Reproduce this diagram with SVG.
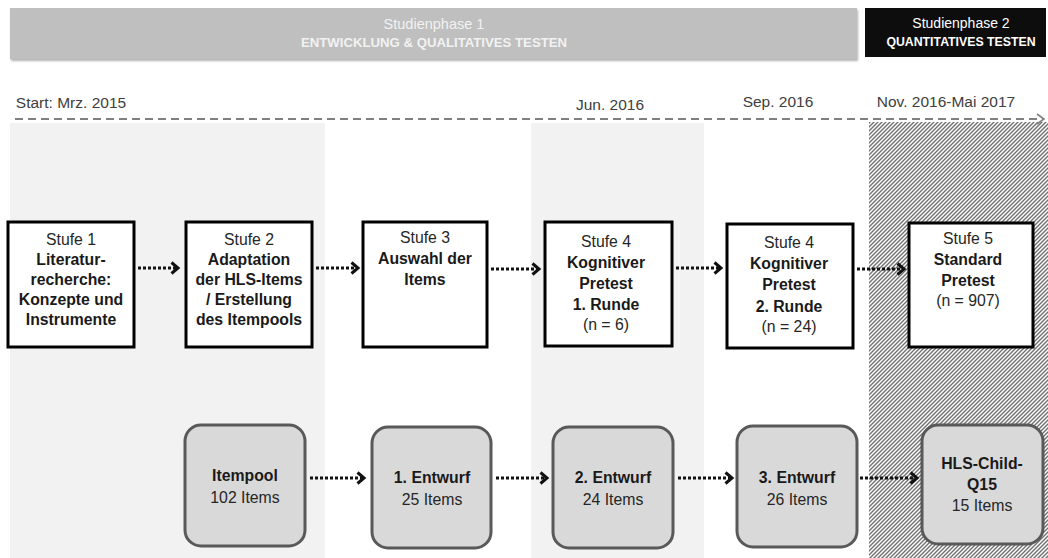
<svg xmlns="http://www.w3.org/2000/svg" width="1048" height="558" viewBox="0 0 1048 558">
<defs>
<style>
text{font-family:"Liberation Sans",Arial,sans-serif;text-anchor:middle;}
.t{font-size:15.8px;fill:#262626;}
.b{font-weight:bold;fill:#1a1a1a;}
.sq{fill:#ffffff;stroke:#000000;stroke-width:3;}
.rr{fill:#d9d9d9;stroke:#595959;stroke-width:3;}
.con{fill:none;stroke:#111111;stroke-width:3;stroke-dasharray:3 2;}
.tl{font-size:15.5px;fill:#404040;}
</style>
<pattern id="hatch" patternUnits="userSpaceOnUse" width="4" height="4">
<rect width="4" height="4" fill="#ffffff"/>
<path d="M-1,1 L1,-1 M0,4 L4,0 M3,5 L5,3" stroke="#707070" stroke-width="1.4"/>
</pattern>
<marker id="ah" markerUnits="userSpaceOnUse" markerWidth="12" markerHeight="14" refX="8" refY="7" orient="auto">
<path d="M1.5,1.5 L8,7 L1.5,12.5" fill="none" stroke="#111111" stroke-width="3"/>
</marker>
<marker id="tah" markerUnits="userSpaceOnUse" markerWidth="10" markerHeight="12" refX="8" refY="6" orient="auto">
<path d="M1,1 L8,6 L1,11" fill="none" stroke="#808080" stroke-width="1.6"/>
</marker>
<filter id="sh" x="-5%" y="-20%" width="110%" height="150%">
<feDropShadow dx="1" dy="2" stdDeviation="1.2" flood-color="#000000" flood-opacity="0.3"/>
</filter>
</defs>
<rect width="1048" height="558" fill="#ffffff"/>
<g id="background">
<rect x="10" y="123" width="315" height="435" fill="#f2f2f2"/>
<rect x="531" y="123" width="173" height="435" fill="#f2f2f2"/>
<rect x="869" y="122" width="179" height="436" fill="url(#hatch)"/>
</g>
<g id="phase1">
<rect x="10" y="8" width="847" height="51" fill="#bfbfbf" filter="url(#sh)"/>
<text x="434" y="29" style="font-size:14.5px;fill:#f2f2f2">Studienphase 1</text>
<text x="434" y="47" class="b" style="font-size:13.2px;fill:#f2f2f2">ENTWICKLUNG &amp; QUALITATIVES TESTEN</text>
</g>
<g id="phase2">
<rect x="865" y="8" width="181" height="49" fill="#0d0d0d"/>
<text x="961" y="28" style="font-size:14px;fill:#ffffff">Studienphase 2</text>
<text x="961" y="46" class="b" style="font-size:12.3px;fill:#ffffff">QUANTITATIVES TESTEN</text>
</g>
<g id="timeline">
<line x1="15" y1="119" x2="1044" y2="119" stroke="#808080" stroke-width="2" stroke-dasharray="8 5" marker-end="url(#tah)"/>
<text x="71" y="108" class="tl">Start: Mrz. 2015</text>
<text x="610" y="110" class="tl">Jun. 2016</text>
<text x="778" y="107" class="tl">Sep. 2016</text>
<text x="946" y="107" class="tl">Nov. 2016-Mai 2017</text>
</g>
<g id="connectors">
<line class="con" x1="138" y1="268" x2="178" y2="268" marker-end="url(#ah)"/>
<line class="con" x1="316" y1="268" x2="358" y2="268" marker-end="url(#ah)"/>
<line class="con" x1="491" y1="269" x2="539" y2="269" marker-end="url(#ah)"/>
<line class="con" x1="676" y1="268" x2="721" y2="268" marker-end="url(#ah)"/>
<line class="con" x1="857" y1="269" x2="904" y2="269" marker-end="url(#ah)"/>
<line class="con" x1="310" y1="478" x2="364" y2="478" marker-end="url(#ah)"/>
<line class="con" x1="496" y1="478" x2="547" y2="478" marker-end="url(#ah)"/>
<line class="con" x1="678" y1="478" x2="732" y2="478" marker-end="url(#ah)"/>
<line class="con" x1="860" y1="478" x2="917" y2="478" marker-end="url(#ah)"/>
</g>
<g id="stufe1">
<rect class="sq" x="8" y="222" width="126" height="125"/>
<text class="t" x="71" y="245">Stufe 1</text>
<text class="t b" x="71" y="265">Literatur-</text>
<text class="t b" x="71" y="285">recherche:</text>
<text class="t b" x="71" y="305">Konzepte und</text>
<text class="t b" x="71" y="325">Instrumente</text>
</g>
<g id="stufe2">
<rect class="sq" x="186" y="222" width="126" height="125"/>
<text class="t" x="249" y="245">Stufe 2</text>
<text class="t b" x="249" y="265">Adaptation</text>
<text class="t b" x="249" y="285">der HLS-Items</text>
<text class="t b" x="249" y="305">/ Erstellung</text>
<text class="t b" x="249" y="325">des Itempools</text>
</g>
<g id="stufe3">
<rect class="sq" x="363" y="222" width="124" height="125"/>
<text class="t" x="425" y="243">Stufe 3</text>
<text class="t b" x="425" y="264">Auswahl der</text>
<text class="t b" x="425" y="285">Items</text>
</g>
<g id="stufe4a">
<rect class="sq" x="545" y="222" width="127" height="124"/>
<text class="t" x="606" y="247">Stufe 4</text>
<text class="t b" x="606" y="268">Kognitiver</text>
<text class="t b" x="606" y="289">Pretest</text>
<text class="t b" x="606" y="310">1. Runde</text>
<text class="t" x="606" y="330">(n = 6)</text>
</g>
<g id="stufe4b">
<rect class="sq" x="727" y="224" width="126" height="124"/>
<text class="t" x="789" y="248">Stufe 4</text>
<text class="t b" x="789" y="269">Kognitiver</text>
<text class="t b" x="789" y="290">Pretest</text>
<text class="t b" x="789" y="312">2. Runde</text>
<text class="t" x="789" y="332">(n = 24)</text>
</g>
<g id="stufe5">
<rect class="sq" x="909" y="223" width="124" height="124"/>
<text class="t" x="968" y="244">Stufe 5</text>
<text class="t b" x="968" y="265">Standard</text>
<text class="t b" x="968" y="286">Pretest</text>
<text class="t" x="968" y="306">(n = 907)</text>
</g>
<g id="itempool">
<rect class="rr" x="185" y="425" width="120" height="121" rx="16"/>
<text class="t b" x="245" y="481">Itempool</text>
<text class="t" x="245" y="503">102 Items</text>
</g>
<g id="entwurf1">
<rect class="rr" x="372" y="427" width="119" height="121" rx="16"/>
<text class="t b" x="432" y="483">1. Entwurf</text>
<text class="t" x="432" y="505">25 Items</text>
</g>
<g id="entwurf2">
<rect class="rr" x="553" y="427" width="120" height="121" rx="16"/>
<text class="t b" x="613" y="483">2. Entwurf</text>
<text class="t" x="613" y="505">24 Items</text>
</g>
<g id="entwurf3">
<rect class="rr" x="737" y="426" width="120" height="121" rx="16"/>
<text class="t b" x="797" y="483">3. Entwurf</text>
<text class="t" x="797" y="505">26 Items</text>
</g>
<g id="hlschild">
<rect class="rr" x="922" y="425" width="121" height="119" rx="16"/>
<text class="t b" x="982" y="469">HLS-Child-</text>
<text class="t b" x="982" y="490">Q15</text>
<text class="t" x="982" y="511">15 Items</text>
</g>
</svg>
